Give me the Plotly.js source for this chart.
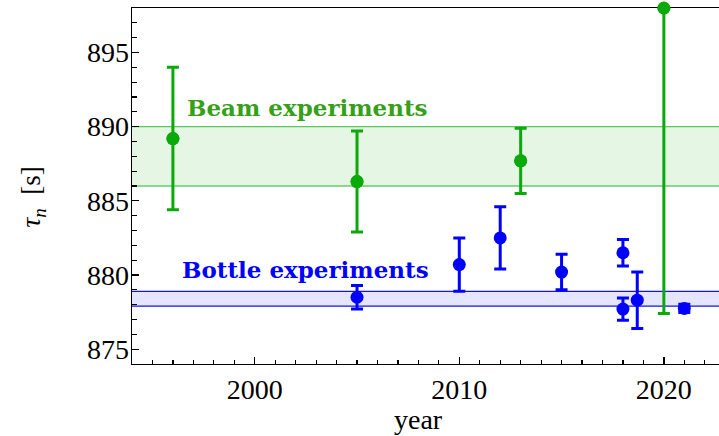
<!DOCTYPE html>
<html>
<head>
<meta charset="utf-8">
<script src="https://cdn.plot.ly/plotly-3.0.1.min.js"></script>
<style>
html,body{margin:0;padding:0;overflow:hidden;background:#fff;width:719px;height:436px;}
#chart{width:760px;height:436px;}
</style>
</head>
<body>
<div id="chart"></div>
<script>
// Beam experiments
const beamYears = [1996, 2005, 2013, 2020];
const beamTau = [889.2, 886.3, 887.7, 898.0];
const beamErrPlus = [4.8, 3.4, 2.2, 18.0];
const beamErrMinus = [4.8, 3.4, 2.2, 20.6];
// Bottle experiments
const bottleYears = [2005, 2010, 2012, 2015, 2018, 2018, 2018.7, 2021];
const bottleTau = [878.5, 880.7, 882.5, 880.2, 881.5, 877.7, 878.3, 877.75];
const bottleErr = [0.8, 1.8, 2.1, 1.2, 0.9, 0.75, 1.9, 0.28];
// Averages (bands)
const beamBand = [886.0, 890.0];
const bottleBand = [877.9, 878.9];
const labels = ["Beam experiments", "Bottle experiments"];
const xTitle = "year";
const yTitle = "<i>τ</i><sub><i>n</i></sub>  [s]";

const green = "rgb(10,170,10)";
const greenText = "rgb(55,160,25)";
const blue = "rgb(0,0,255)";
const serif = "Liberation Serif, Times New Roman, serif";

const traces = [
  {x: beamYears, y: beamTau, type: "scatter", mode: "markers", cliponaxis: true,
   marker: {color: green, size: 13},
   error_y: {type: "data", symmetric: false, array: beamErrPlus, arrayminus: beamErrMinus,
             color: green, thickness: 3, width: 6}, showlegend: false, hoverinfo: "skip"},
  {x: beamYears, y: beamTau, type: "scatter", mode: "markers", cliponaxis: false,
   marker: {color: green, size: 13}, showlegend: false},
  {x: bottleYears, y: bottleTau, type: "scatter", mode: "markers", cliponaxis: false,
   marker: {color: blue, size: 13},
   error_y: {type: "data", array: bottleErr, color: blue, thickness: 3, width: 6},
   showlegend: false}
];

const axisCommon = {
  showline: true, linecolor: "#000", linewidth: 1.3, mirror: true,
  ticks: "inside", ticklen: 7, tickwidth: 1.3, tickcolor: "#000",
  showgrid: false, zeroline: false, layer: "below traces",
  tickfont: {family: serif, size: 28, color: "#000"}
};

const layout = {
  width: 760, height: 436,
  margin: {l: 132, r: 0, t: 8, b: 72},
  paper_bgcolor: "#fff", plot_bgcolor: "#fff",
  xaxis: Object.assign({}, axisCommon, {
    range: [1994, 2024.7], tickmode: "linear", tick0: 2000, dtick: 10,
    minor: {dtick: 1, tick0: 2000, ticks: "inside", ticklen: 4.5, tickwidth: 1.2, tickcolor: "#000", showgrid: false}
  }),
  yaxis: Object.assign({}, axisCommon, {
    range: [874, 898], tickmode: "linear", tick0: 875, dtick: 5, ticklabelstandoff: -4,
    minor: {dtick: 1, tick0: 875, ticks: "inside", ticklen: 4.5, tickwidth: 1.2, tickcolor: "#000", showgrid: false}
  }),
  shapes: [
    {type: "rect", xref: "paper", yref: "y", x0: 0, x1: 1, y0: beamBand[0], y1: beamBand[1],
     fillcolor: "rgba(20,170,20,0.11)", line: {width: 0}, layer: "below"},
    {type: "line", xref: "paper", yref: "y", x0: 0, x1: 1, y0: beamBand[0], y1: beamBand[0],
     line: {color: "rgb(40,180,40)", width: 1.2}, layer: "below"},
    {type: "line", xref: "paper", yref: "y", x0: 0, x1: 1, y0: beamBand[1], y1: beamBand[1],
     line: {color: "rgb(90,200,90)", width: 1.2}, layer: "below"},
    {type: "rect", xref: "paper", yref: "y", x0: 0, x1: 1, y0: bottleBand[0], y1: bottleBand[1],
     fillcolor: "rgba(40,40,255,0.12)", line: {width: 0}, layer: "below"},
    {type: "line", xref: "paper", yref: "y", x0: 0, x1: 1, y0: bottleBand[0], y1: bottleBand[0],
     line: {color: "rgb(20,20,230)", width: 1.2}, layer: "below"},
    {type: "line", xref: "paper", yref: "y", x0: 0, x1: 1, y0: bottleBand[1], y1: bottleBand[1],
     line: {color: "rgb(20,20,230)", width: 1.2}, layer: "below"}
  ],
  annotations: [
    {x: 2002.6, y: 891.3, xref: "x", yref: "y", text: "<b>" + labels[0] + "</b>", showarrow: false,
     font: {family: "DejaVu Serif", size: 23, color: greenText}},
    {x: 2002.5, y: 880.4, xref: "x", yref: "y", text: "<b>" + labels[1] + "</b>", showarrow: false,
     font: {family: "DejaVu Serif", size: 23, color: blue}},
    {x: 2008, y: -0.157, xref: "x", yref: "paper", text: xTitle, showarrow: false,
     xanchor: "center", yanchor: "middle", font: {family: serif, size: 28, color: "#000"}},
    {x: -0.158, y: 0.47, xref: "paper", yref: "paper", text: yTitle, showarrow: false, textangle: -90,
     xanchor: "center", yanchor: "middle", font: {family: serif, size: 27, color: "#000"}}
  ]
};

Plotly.newPlot("chart", traces, layout, {staticPlot: true, displayModeBar: false});
</script>
</body>
</html>
